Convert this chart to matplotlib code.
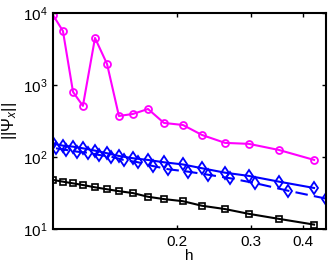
import matplotlib
matplotlib.use("Agg")
import matplotlib.pyplot as plt
from matplotlib.ticker import FixedLocator, FixedFormatter, NullLocator

plt.rcParams['font.family'] = ['Liberation Sans', 'DejaVu Sans']
plt.rcParams['mathtext.fontset'] = 'custom'
plt.rcParams['mathtext.rm'] = 'Liberation Sans'
plt.rcParams['mathtext.it'] = 'Liberation Sans:italic'

h = [0.1012, 0.1069, 0.1130, 0.1193, 0.1275, 0.1362, 0.1454, 0.1571,
     0.1706, 0.1862, 0.2067, 0.2295, 0.2604, 0.2971, 0.3503, 0.4247]
h_dashed = [0.1029, 0.1089, 0.1155, 0.1224, 0.1302, 0.1391, 0.1492, 0.1615,
            0.1749, 0.1907, 0.2128, 0.2367, 0.2680, 0.3078, 0.3680, 0.4535]

magenta_vals = [9380, 5620, 800, 512, 4500, 1960, 371, 396, 464, 297, 278,
                202, 157, 152, 125, 91]
blue_solid = [155, 143.5, 139, 132, 122.5, 112.7, 103.3, 96, 90.9, 84.4,
              78.7, 69.7, 60.5, 54.5, 45.4, 37.1]
blue_dashed = [132, 125, 118.5, 114.7, 106.7, 101, 90.9, 84.4, 75, 67.5,
               62.5, 56.8, 50.6, 43.2, 34, 26.4]
black_vals = [48, 45.4, 43.0, 40.8, 37.9, 35.6, 33.5, 31.5, 28.0, 26.0,
              24.3, 21.0, 18.9, 16.2, 13.8, 11.5]

xticks = [0.2, 0.3, 0.4]
xtick_labels = ['0.2', '0.3', '0.4']
yticks = [10, 100, 1000, 10000]
ytick_labels = [r'$10^1$', r'$10^2$', r'$10^3$', r'$10^4$']

fig = plt.figure(figsize=(3.33, 2.65), dpi=100)
ax = fig.add_axes([0.159, 0.136, 0.820, 0.815])

ax.plot(h, magenta_vals, '-o', color='#ff00ff', lw=1.5, ms=5,
        mfc='none', mew=1.3)
ax.plot(h, blue_solid, '-d', color='#0000ff', lw=1.5, ms=6,
        mfc='none', mew=1.3)
ax.plot(h_dashed, blue_dashed, '--d', color='#0000ff', lw=1.5, ms=6,
        mfc='none', mew=1.3, dashes=(6, 3))
ax.plot(h, black_vals, '-s', color='black', lw=1.5, ms=4.5,
        mfc='none', mew=1.2)

ax.set_xscale('log')
ax.set_yscale('log')
ax.set_xlim(h[0], h_dashed[-1])
ax.set_ylim(10, 10000)

ax.xaxis.set_major_locator(FixedLocator(xticks))
ax.xaxis.set_major_formatter(FixedFormatter(xtick_labels))
ax.xaxis.set_minor_locator(NullLocator())
ax.yaxis.set_major_locator(FixedLocator(yticks))
ax.yaxis.set_major_formatter(FixedFormatter(ytick_labels))
ax.yaxis.set_minor_locator(NullLocator())

ax.tick_params(which='both', direction='in', top=True, right=True,
               length=3, width=1, labelsize=11, pad=4)
for s in ax.spines.values():
    s.set_linewidth(1.5)

ax.set_xlabel('h', fontsize=11, labelpad=0)
ax.set_ylabel(r'$||\Psi_x||$', fontsize=12, labelpad=3)

fig.savefig('out.png', dpi=100)
